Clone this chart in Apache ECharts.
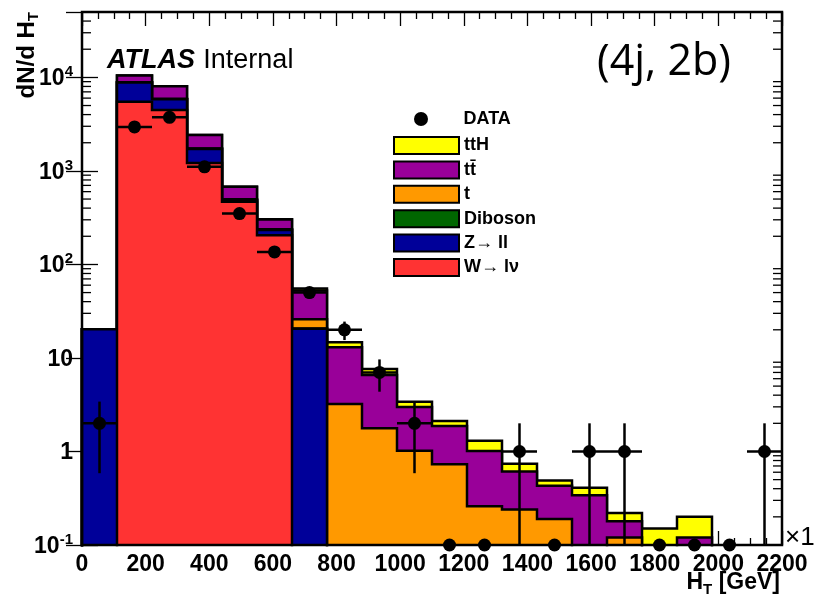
<!DOCTYPE html>
<html>
<head>
<meta charset="utf-8">
<script src="https://cdn.jsdelivr.net/npm/echarts@6/dist/echarts.min.js"></script>
<style>
  html, body { margin: 0; padding: 0; background: #ffffff; }
  #chart { width: 814px; height: 602px; }
</style>
</head>
<body>
<div id="chart"></div>
<script>
// H_T binning: 20 bins of 110 GeV
const binEdges = [0, 110, 220, 330, 440, 550, 660, 770, 880, 990, 1100,
                  1210, 1320, 1430, 1540, 1650, 1760, 1870, 1980, 2090, 2200];

// Expected yields per bin, one array per process (stacked bottom to top: W, Z, Diboson, t, tt, ttH)
const wlnu     = [0, 5500, 4490, 1212, 467, 205, 0, 0, 0, 0, 0, 0, 0, 0, 0, 0, 0, 0, 0, 0];
const zll      = [20.3, 3320, 1352, 504, 17, 29, 20.5, 0, 0, 0, 0, 0, 0, 0, 0, 0, 0, 0, 0, 0];
const diboson  = [0, 10, 8, 4, 3, 1, 0.2, 0, 0, 0, 0, 0, 0, 0, 0, 0, 0, 0, 0, 0];
const singleTop = [0, 40, 40, 20, 12, 3, 5.3, 3.22, 1.77, 1.02, 0.73, 0.26, 0.24, 0.19, 0.05, 0.12, 0, 0.03, 0, 0];
const ttbar    = [0, 1570, 2152, 676, 176, 65, 26.7, 9.78, 4.82, 1.97, 1.14, 0.75, 0.37, 0.24, 0.29, 0.06, 0.06, 0.09, 0, 0];
const ttH      = [0, 10, 8, 4, 2, 1, 2.7, 1.7, 1.05, 0.42, 0.25, 0.29, 0.13, 0.06, 0.07, 0.04, 0.09, 0.08, 0, 0];

// Observed event counts per bin
const dataCounts = [2, 2950, 3740, 1106, 350, 136, 50, 20, 7, 2, 0, 0, 1, 0, 1, 1, 0, 0, 0, 1];

// Axis tick labels
const xTickLabels = ['0', '200', '400', '600', '800', '1000', '1200', '1400', '1600', '1800', '2000', '2200'];
const yDecades = [0.1, 1, 10, 100, 1000, 10000];
const yTickLabels = ['{b|10}{s|-1}', '{b|1}', '{b|10}', '{b|10}{s|2}', '{b|10}{s|3}', '{b|10}{s|4}'];

const Y_MIN = 0.1, Y_MAX = 50000, X_MIN = 0, X_MAX = 2200;
const FLOOR = 0.01;           // outline value used for empty bins (below the visible range)
const FONT = 'Liberation Sans, Arial, Helvetica, sans-serif';

// Plot frame in pixels
const G = { left: 82, top: 12, width: 700, height: 533 };

// Cumulative stack levels
function addArr(a, b) { return a.map((v, i) => v + b[i]); }
const cumW   = wlnu.slice();
const cumZ   = addArr(cumW, zll);
const cumD   = addArr(cumZ, diboson);
const cumT   = addArr(cumD, singleTop);
const cumTT  = addArr(cumT, ttbar);
const cumTTH = addArr(cumTT, ttH);

function fillSeries(name, color, cum, z) {
  return {
    type: 'custom', name: name, z: z, silent: true, animation: false,
    itemStyle: { color: color },
    data: cum.map((v, i) => [binEdges[i], binEdges[i + 1], v]),
    encode: { x: [0, 1], y: 2 },
    renderItem: function (params, api) {
      const v = api.value(2);
      if (!(v > Y_MIN)) return null;
      const p0 = api.coord([api.value(0), v]);
      const p1 = api.coord([api.value(1), Y_MIN]);
      return {
        type: 'rect',
        shape: { x: p0[0], y: p0[1], width: p1[0] - p0[0], height: p1[1] - p0[1] },
        style: { fill: color }
      };
    }
  };
}

function outlineSeries(name, cum, z) {
  const pts = [[binEdges[0], FLOOR]];
  cum.forEach((v, i) => {
    const y = Math.max(v, FLOOR);
    pts.push([binEdges[i], y], [binEdges[i + 1], y]);
  });
  pts.push([binEdges[binEdges.length - 1], FLOOR]);
  return {
    type: 'line', name: name, z: z, data: pts, symbol: 'none', clip: true,
    silent: true, animation: false,
    lineStyle: { color: '#000', width: 2.5, join: 'miter', cap: 'square' }
  };
}

// Minor log ticks (2..9 x 10^k) for the left and right frame edges
const yMinorTicks = [];
for (let k = -1; k <= 4; k++) {
  for (let m = 2; m <= 9; m++) {
    const v = m * Math.pow(10, k);
    if (v < Y_MAX) yMinorTicks.push([0, v]);
  }
}

const series = [
  {
    type: 'custom', name: 'minor ticks', z: 1, silent: true, animation: false,
    data: yMinorTicks,
    renderItem: function (params, api) {
      const v = api.value(1);
      const pl = api.coord([X_MIN, v]);
      const pr = api.coord([X_MAX, v]);
      const st = { stroke: '#000', lineWidth: 1.3 };
      return {
        type: 'group',
        children: [
          { type: 'line', shape: { x1: pl[0], y1: pl[1], x2: pl[0] + 9, y2: pl[1] }, style: st },
          { type: 'line', shape: { x1: pr[0] - 9, y1: pr[1], x2: pr[0], y2: pr[1] }, style: st }
        ]
      };
    }
  },
  fillSeries('ttH', '#ffff00', cumTTH, 2),
  outlineSeries('ttH edge', cumTTH, 3),
  fillSeries('tt\u0304', '#990099', cumTT, 4),
  outlineSeries('tt edge', cumTT, 5),
  fillSeries('t', '#ff9900', cumT, 6),
  outlineSeries('t edge', cumT, 7),
  fillSeries('Diboson', '#006600', cumD, 8),
  outlineSeries('Diboson edge', cumD, 9),
  fillSeries('Z\u2192 ll', '#000099', cumZ, 10),
  outlineSeries('Z edge', cumZ, 11),
  fillSeries('W\u2192 l\u03bd', '#ff3333', cumW, 12),
  outlineSeries('W edge', cumW, 13),
  {
    type: 'custom', name: 'DATA errors', z: 30, silent: true, animation: false,
    data: dataCounts.map((n, i) => [binEdges[i], binEdges[i + 1], n]),
    encode: { x: [0, 1], y: 2 },
    renderItem: function (params, api) {
      const n = api.value(2);
      if (!(n > 0)) return null;
      const lo = api.value(0), hi = api.value(1), c = (lo + hi) / 2, e = Math.sqrt(n);
      const pL = api.coord([lo, n]), pR = api.coord([hi, n]);
      const pT = api.coord([c, n + e]), pB = api.coord([c, Math.max(n - e, Y_MIN)]);
      const st = { stroke: '#000', lineWidth: 2.5 };
      return {
        type: 'group',
        children: [
          { type: 'line', shape: { x1: pL[0], y1: pL[1], x2: pR[0], y2: pR[1] }, style: st },
          { type: 'line', shape: { x1: pT[0], y1: pT[1], x2: pB[0], y2: pB[1] }, style: st }
        ]
      };
    }
  },
  {
    type: 'scatter', name: 'DATA', z: 31, clip: false, silent: true, animation: false,
    symbol: 'circle', symbolSize: 13,
    itemStyle: { color: '#000', opacity: 1 },
    data: dataCounts.map((n, i) => [(binEdges[i] + binEdges[i + 1]) / 2, Math.max(n, Y_MIN)])
  }
];

function yLabel(v) {
  for (let i = 0; i < yDecades.length; i++) {
    if (Math.abs(Math.log10(v) - Math.log10(yDecades[i])) < 1e-6) return yTickLabels[i];
  }
  return '';
}

const tickCommon = { inside: true, length: 16, lineStyle: { color: '#000', width: 1.3 } };

const option = {
  backgroundColor: '#ffffff',
  animation: false,
  grid: { left: G.left, top: G.top, width: G.width, height: G.height, containLabel: false, outerBoundsMode: 'none' },
  xAxis: [
    {
      type: 'value', position: 'bottom', min: X_MIN, max: X_MAX, interval: 200,
      axisLine: { show: false }, splitLine: { show: false },
      axisTick: { show: true, inside: true, length: 14, lineStyle: { color: '#000', width: 1.3 } },
      minorTick: { show: true, splitNumber: 4, length: 7, lineStyle: { color: '#000', width: 1.3 } },
      axisLabel: {
        margin: 8, color: '#000', fontSize: 23, fontWeight: 'bold', fontFamily: FONT,
        showMinLabel: true, showMaxLabel: true,
        formatter: function (v) { return xTickLabels[Math.round(v / 200)] || ''; }
      }
    },
    {
      type: 'value', position: 'top', min: X_MIN, max: X_MAX, interval: 200,
      axisLine: { show: false }, splitLine: { show: false }, axisLabel: { show: false },
      axisTick: { show: true, inside: true, length: 14, lineStyle: { color: '#000', width: 1.3 } },
      minorTick: { show: true, splitNumber: 4, length: 7, lineStyle: { color: '#000', width: 1.3 } }
    }
  ],
  yAxis: [
    {
      type: 'log', logBase: 10, position: 'left', min: Y_MIN, max: Y_MAX, interval: 1,
      axisLine: { show: false }, splitLine: { show: false },
      axisTick: tickCommon,
      axisLabel: {
        margin: 9, color: '#000', showMaxLabel: false,
        formatter: yLabel,
        rich: {
          b: { fontSize: 23, fontWeight: 'bold', fontFamily: FONT, color: '#000', lineHeight: 26, verticalAlign: 'bottom' },
          s: { fontSize: 15, fontWeight: 'bold', fontFamily: FONT, color: '#000', lineHeight: 16, verticalAlign: 'top' }
        }
      }
    },
    {
      type: 'log', logBase: 10, position: 'right', min: Y_MIN, max: Y_MAX, interval: 1,
      axisLine: { show: false }, splitLine: { show: false }, axisLabel: { show: false },
      axisTick: tickCommon
    }
  ],
  legend: [
    {
      data: [{ name: 'DATA', icon: 'circle', itemStyle: { color: '#000', opacity: 1 } }],
      orient: 'vertical', left: 409, top: 105, itemWidth: 65, itemHeight: 14,
      selectedMode: false,
      textStyle: { fontSize: 18, fontWeight: 'bold', fontFamily: FONT, color: '#000', padding: [0, 0, 0, 5] }
    },
    {
      data: ['ttH', 'tt\u0304', 't', 'Diboson', 'Z\u2192 ll', 'W\u2192 l\u03bd'],
      orient: 'vertical', left: 388, top: 131, itemWidth: 65, itemHeight: 17, itemGap: 5.4,
      icon: 'rect', selectedMode: false,
      itemStyle: { borderColor: '#000', borderWidth: 2 },
      textStyle: { fontSize: 18, fontWeight: 'bold', fontFamily: FONT, color: '#000' }
    }
  ],
  graphic: [
    // Plot frame drawn above the filled histograms
    {
      type: 'rect', z: 25, silent: true,
      shape: { x: G.left, y: G.top, width: G.width, height: G.height },
      style: { fill: null, stroke: '#000', lineWidth: 2.5 }
    },
    {
      type: 'text', z: 40, silent: true, x: 107, y: 61,
      style: {
        text: '{a|ATLAS} {i|Internal}', verticalAlign: 'middle',
        rich: {
          a: { fontSize: 27, fontWeight: 'bold', fontStyle: 'italic', fontFamily: FONT, fill: '#000' },
          i: { fontSize: 27, fontFamily: FONT, fill: '#000', padding: [0, 0, 0, 5] }
        }
      }
    },
    {
      type: 'text', z: 40, silent: true, x: 597, y: 63,
      style: { text: '(4j, 2b)', fontSize: 43, fontFamily: 'Open Sans, Noto Sans, sans-serif', fill: '#000', verticalAlign: 'middle' }
    },
    {
      type: 'text', z: 40, silent: true, x: 28, y: 12, rotation: Math.PI / 2,
      style: {
        text: '{m|dN/d H}{t|T}', align: 'right', verticalAlign: 'middle',
        rich: {
          m: { fontSize: 24, fontWeight: 'bold', fontFamily: FONT, fill: '#000', lineHeight: 26, verticalAlign: 'top' },
          t: { fontSize: 15, fontWeight: 'bold', fontFamily: FONT, fill: '#000', lineHeight: 14, verticalAlign: 'bottom' }
        }
      }
    },
    {
      type: 'text', z: 40, silent: true, x: 780, y: 584,
      style: {
        text: '{m|H}{t|T}{m| [GeV]}', align: 'right', verticalAlign: 'middle',
        rich: {
          m: { fontSize: 23, fontWeight: 'bold', fontFamily: FONT, fill: '#000', lineHeight: 26, verticalAlign: 'top' },
          t: { fontSize: 15, fontWeight: 'bold', fontFamily: FONT, fill: '#000', lineHeight: 14, verticalAlign: 'bottom' }
        }
      }
    },
    {
      type: 'text', z: 40, silent: true, x: 785, y: 538,
      style: { text: '\u00d710\u00b3', fontSize: 26, fontFamily: FONT, fill: '#000', verticalAlign: 'middle' }
    }
  ],
  series: series
};

const chart = echarts.init(document.getElementById('chart'), null, { renderer: 'canvas' });
chart.setOption(option);
</script>
</body>
</html>
